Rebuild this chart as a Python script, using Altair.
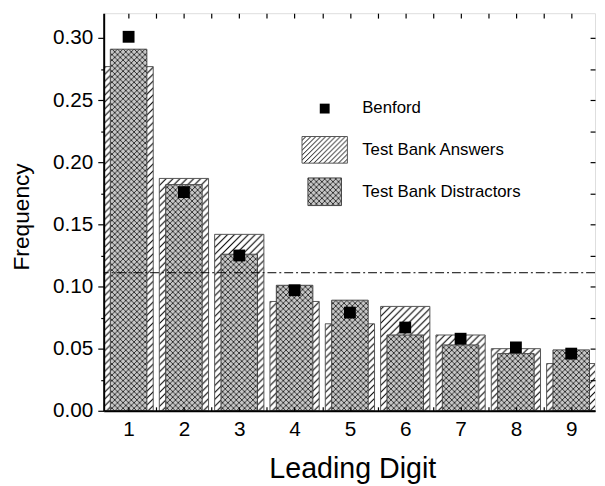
import altair as alt
import pandas as pd
from altair.utils.html import TEMPLATES

# ---- data ----
digits = [1, 2, 3, 4, 5, 6, 7, 8, 9]
benford = [0.301, 0.176, 0.125, 0.097, 0.079, 0.067, 0.058, 0.051, 0.046]
answers = [0.277, 0.187, 0.142, 0.088, 0.070, 0.084, 0.061, 0.050, 0.038]
distractors = [0.291, 0.182, 0.126, 0.101, 0.089, 0.061, 0.053, 0.046, 0.049]
series_names = ["Benford", "Test Bank Answers", "Test Bank Distractors"]
uniform_level = [1 / 9]
y_tick_values = [0.00, 0.05, 0.10, 0.15, 0.20, 0.25, 0.30]

df = pd.DataFrame({"digit": digits, "benford": benford,
                   "answers": answers, "distractors": distractors})
rule_df = pd.DataFrame({"u": uniform_level})
one = pd.DataFrame({"k": [0]})

FONT = "Liberation Sans"
W, H = 498, 403
half_vals = [d / 2 for d in range(1, 20)]
minor_vals = [round(0.025 * i, 3) for i in range(0, 13)]
odd_minor = [v for v in minor_vals if v not in y_tick_values]

xs = alt.Scale(domain=[0.55, 9.43], nice=False, zero=False)
ys = alt.Scale(domain=[0, 0.32], nice=False, zero=True)

base = alt.Chart(df).transform_calculate(
    a_lo="datum.digit - 0.445", a_hi="datum.digit + 0.445",
    d_lo="datum.digit - 0.33", d_hi="datum.digit + 0.33", zero="0")

ans = base.mark_rect(fill="url(#hatch)", stroke="#555555", strokeWidth=1, clip=True).encode(
    x=alt.X("a_lo:Q", scale=xs, axis=alt.Axis(
        orient="bottom", values=digits, format="d", labelFontSize=21, labelFont=FONT,
        labelColor="black", labelBaseline="alphabetic", labelPadding=25, ticks=False, tickSize=0,
        domain=True, domainColor="black", domainWidth=2, grid=False, zindex=1,
        title="Leading Digit", titleFont=FONT, titleFontSize=29, titleFontWeight="normal",
        titleColor="black", titleX=252, titleY=68, titleBaseline="alphabetic", titleAlign="center")),
    x2="a_hi:Q",
    y=alt.Y("answers:Q", scale=ys, axis=alt.Axis(
        orient="left", values=y_tick_values, format=".2f", labelFontSize=21, labelFont=FONT,
        labelColor="black", labelPadding=5, tickSize=6, tickColor="black", tickWidth=1.2,
        domain=True, domainColor="black", domainWidth=2, grid=False, zindex=1,
        title="Frequency", titleFont=FONT, titleFontSize=23, titleFontWeight="normal",
        titleColor="black", titleAngle=270, titleX=-76.5, titleY=206,
        titleBaseline="alphabetic", titleAlign="center")),
    y2="zero:Q",
)

dis = base.mark_rect(fill="url(#cross)", stroke="#444444", strokeWidth=1, clip=True).encode(
    x=alt.X("d_lo:Q", scale=xs, axis=alt.Axis(
        orient="bottom", values=half_vals, labels=False, domain=False, ticks=True, tickSize=4,
        tickColor="black", tickWidth=1.2, offset=-4, title=None, grid=False, zindex=1)),
    x2="d_hi:Q",
    y=alt.Y("distractors:Q", scale=ys, axis=alt.Axis(
        orient="left", values=odd_minor, labels=False, domain=False, tickSize=3,
        tickColor="black", tickWidth=1.2, title=None, grid=False, zindex=1)),
    y2="zero:Q",
)

rule = alt.Chart(rule_df).mark_rule(color="black", strokeWidth=1, strokeDash=[9, 3, 2, 3]).encode(
    y=alt.Y("u:Q", scale=ys, axis=None))

ben = base.mark_square(size=144, color="black", opacity=1).encode(
    x=alt.X("digit:Q", scale=xs, axis=alt.Axis(
        orient="top", values=half_vals, labels=False, domain=False, tickSize=5,
        tickColor="black", tickWidth=1.2, offset=-5, title=None, grid=False, zindex=1)),
    y=alt.Y("benford:Q", scale=ys, axis=alt.Axis(
        orient="right", values=minor_vals, labels=False, domain=False, tickSize=5,
        tickColor="black", tickWidth=1.2, offset=-5, title=None, grid=False, zindex=1)),
)

# ---- legend (inside plot) ----
leg_ben = alt.Chart(one).mark_square(size=100, color="black", opacity=1).encode(
    x=alt.value(224), y=alt.value(96.7))
leg_ans = alt.Chart(one).mark_rect(fill="url(#hatchsmall)", stroke="#555555", strokeWidth=1).encode(
    x=alt.value(201), x2=alt.value(247), y=alt.value(125), y2=alt.value(152))
leg_dis = alt.Chart(one).mark_rect(fill="url(#cross)", stroke="#444444", strokeWidth=1).encode(
    x=alt.value(207), x2=alt.value(241), y=alt.value(167), y2=alt.value(195))
txt_kw = dict(align="left", baseline="alphabetic", fontSize=17, font=FONT, color="black")
leg_t1 = alt.Chart(one).mark_text(**txt_kw).encode(
    x=alt.value(262), y=alt.value(100.7), text=alt.value(series_names[0]))
leg_t2 = alt.Chart(one).mark_text(**txt_kw).encode(
    x=alt.value(262), y=alt.value(143.3), text=alt.value(series_names[1]))
leg_t3 = alt.Chart(one).mark_text(**txt_kw).encode(
    x=alt.value(262), y=alt.value(186.7), text=alt.value(series_names[2]))

chart = alt.layer(
    ans, dis, rule, ben, leg_ben, leg_ans, leg_dis, leg_t1, leg_t2, leg_t3
).resolve_scale(x="shared", y="shared").resolve_axis(
    x="independent", y="independent"
).properties(
    width=W, height=H,
    autosize=alt.AutoSizeParams(type="none"),
    padding={"left": 97, "top": 2, "right": 2, "bottom": 74},
).configure_view(stroke="black", strokeWidth=2).configure(font=FONT, background="white")

DEFS = """
<svg width="0" height="0" style="position:absolute;left:0;top:0">
 <defs>
  <pattern id="hatch" patternUnits="userSpaceOnUse" width="7" height="7">
   <rect width="7" height="7" fill="white"/>
   <path d="M-1,8 L8,-1 M-2,2 L2,-2 M5,9 L9,5" stroke="#000" stroke-width="1.1"/>
  </pattern>
  <pattern id="hatchsmall" patternUnits="userSpaceOnUse" width="5" height="5">
   <rect width="5" height="5" fill="white"/>
   <path d="M-1,6 L6,-1 M-2,2 L2,-2 M3,7 L7,3" stroke="#000" stroke-width="1"/>
  </pattern>
  <pattern id="cross" patternUnits="userSpaceOnUse" width="5.6" height="5.6">
   <rect width="5.6" height="5.6" fill="#c6c6c6"/>
   <path d="M-1,-1 L6.6,6.6 M-1,6.6 L6.6,-1" stroke="#111" stroke-width="0.8"/>
  </pattern>
 </defs>
</svg>
"""


class _DefsTemplate:
    def __init__(self, inner):
        self.inner = inner

    def render(self, **kw):
        html = self.inner.render(**kw)
        if "<body>" in html:
            return html.replace("<body>", "<body>\n" + DEFS, 1)
        return DEFS + html


chart.save("out.html", embed_options={"renderer": "svg", "actions": False},
           template=_DefsTemplate(TEMPLATES["standard"]))
